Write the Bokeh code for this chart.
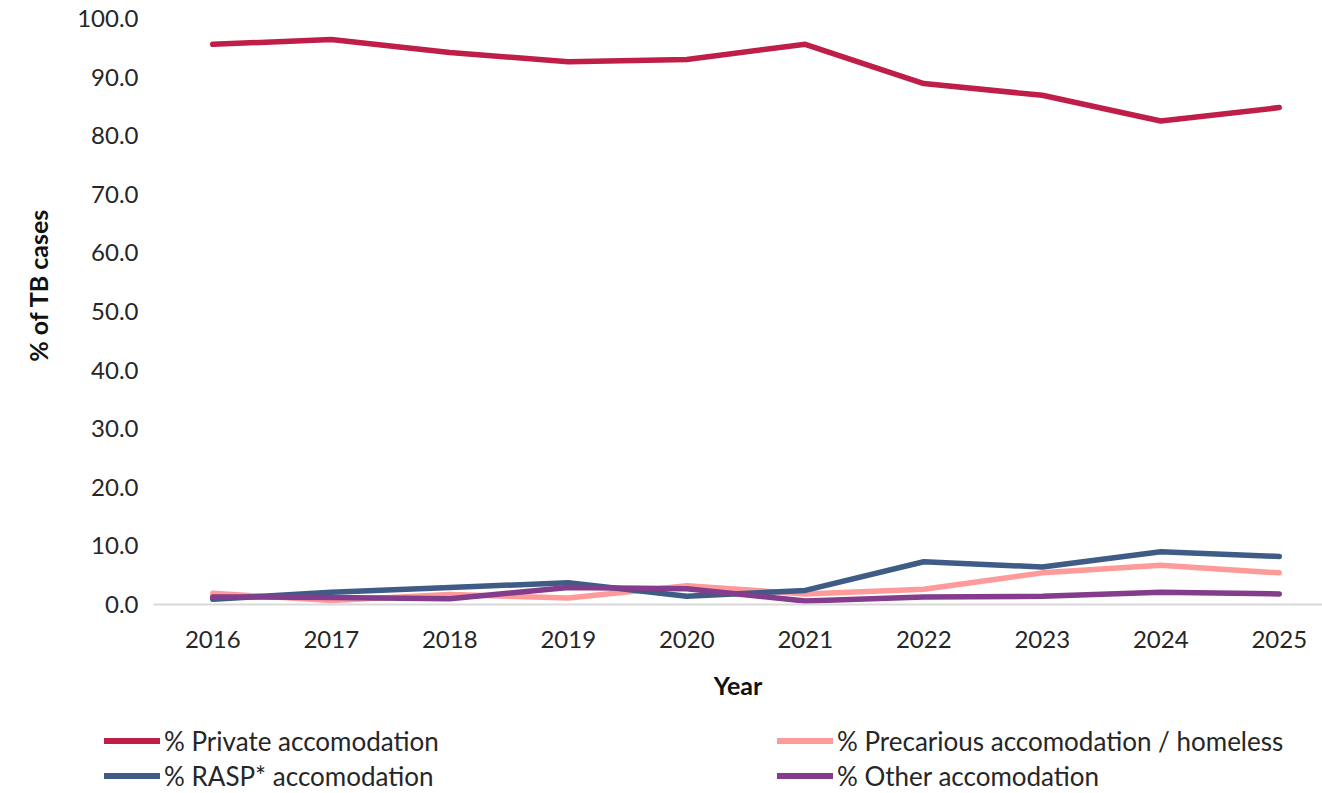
from bokeh.plotting import figure
from bokeh.layouts import column
from bokeh.models import (Range1d, FixedTicker, SingleIntervalTicker, NumeralTickFormatter,
                          Legend, LegendItem, Title)
from bokeh.embed import file_html
from bokeh.resources import INLINE

years = [2016, 2017, 2018, 2019, 2020, 2021, 2022, 2023, 2024, 2025]
private = [95.6, 96.4, 94.2, 92.6, 93.0, 95.6, 88.9, 86.9, 82.5, 84.8]
precarious = [1.9, 0.7, 1.7, 1.1, 3.2, 1.8, 2.6, 5.4, 6.7, 5.4]
rasp = [0.9, 2.1, 2.9, 3.7, 1.4, 2.4, 7.3, 6.4, 9.0, 8.2]
other = [1.3, 1.2, 1.0, 2.9, 2.7, 0.6, 1.3, 1.4, 2.1, 1.8]

series_names = ["% Private accomodation", "% Precarious accomodation / homeless",
                "% RASP* accomodation", "% Other accomodation"]
series_colors = ["#BE1E48", "#FF9A9A", "#3E5C86", "#843C8C"]
series_values = [private, precarious, rasp, other]

FONT = "Lato"
TXT = "#262626"

MAIN_H = 720
p = figure(width=1322, height=MAIN_H, output_backend="svg", toolbar_location=None,
           x_range=Range1d(2015.5, 2025.365), y_range=Range1d(0, 100),
           min_border_left=153, min_border_right=0, min_border_top=18,
           min_border_bottom=MAIN_H - 604)
p.frame_align = False
p.outline_line_color = None
p.xgrid.visible = False
p.ygrid.visible = False

for vals, col in zip(series_values, series_colors):
    p.line(years, vals, line_color=col, line_width=5.5, line_cap="round", line_join="round")

# X axis
xa = p.xaxis[0]
xa.ticker = FixedTicker(ticks=years)
xa.axis_line_color = "#D9D9D9"
xa.axis_line_width = 2
xa.major_tick_line_color = None
xa.minor_tick_line_color = None
xa.major_tick_out = 0
xa.major_label_standoff = 26
xa.major_label_text_font = FONT
xa.major_label_text_font_size = "24px"
xa.major_label_text_color = TXT
xa.axis_label = "Year"
xa.axis_label_text_font = FONT
xa.axis_label_text_font_size = "25px"
xa.axis_label_text_font_style = "bold"
xa.axis_label_text_color = "#111111"
xa.axis_label_standoff = 19

# Y axis
ya = p.yaxis[0]
ya.ticker = SingleIntervalTicker(interval=10, num_minor_ticks=0)
ya.formatter = NumeralTickFormatter(format="0.0")
ya.axis_line_color = None
ya.major_tick_line_color = None
ya.minor_tick_line_color = None
ya.major_tick_out = 0
ya.major_label_standoff = 15
ya.major_label_text_font = FONT
ya.major_label_text_font_size = "24px"
ya.major_label_text_color = TXT

ytitle = Title(text="% of TB cases", align="right", vertical_align="top", offset=190, standoff=40,
               text_font=FONT, text_font_size="25px", text_font_style="bold",
               text_color="#111111")
p.add_layout(ytitle, "left")

# Legend strip below the chart (its lines fall outside its ranges, only the legend shows)
LEG_H = 793 - MAIN_H
lp = figure(width=1322, height=LEG_H, output_backend="svg", toolbar_location=None,
            x_range=Range1d(0, 1), y_range=Range1d(0, 1),
            x_axis_location=None, y_axis_location=None,
            min_border_left=0, min_border_right=0, min_border_top=0, min_border_bottom=0)
lp.frame_align = False
lp.outline_line_color = None
lp.xgrid.visible = False
lp.ygrid.visible = False
leg_renderers = []
for vals, col in zip(series_values, series_colors):
    r = lp.line(years, vals, line_color=col, line_width=6, line_cap="round")
    leg_renderers.append(r)

def make_legend(idx, loc):
    items = [LegendItem(label=series_names[i], renderers=[leg_renderers[i]]) for i in idx]
    return Legend(items=items, location=loc, orientation="vertical",
                  glyph_width=56, glyph_height=35, label_height=35, label_standoff=4,
                  spacing=0, padding=0, margin=0,
                  border_line_color=None, background_fill_alpha=0,
                  label_text_font=FONT, label_text_font_size="26px", label_text_color=TXT)

lp.add_layout(make_legend([0, 2], (104, 0)))
lp.add_layout(make_legend([1, 3], (777, 0)))

open("out.html", "w").write(file_html(column(p, lp), INLINE))
